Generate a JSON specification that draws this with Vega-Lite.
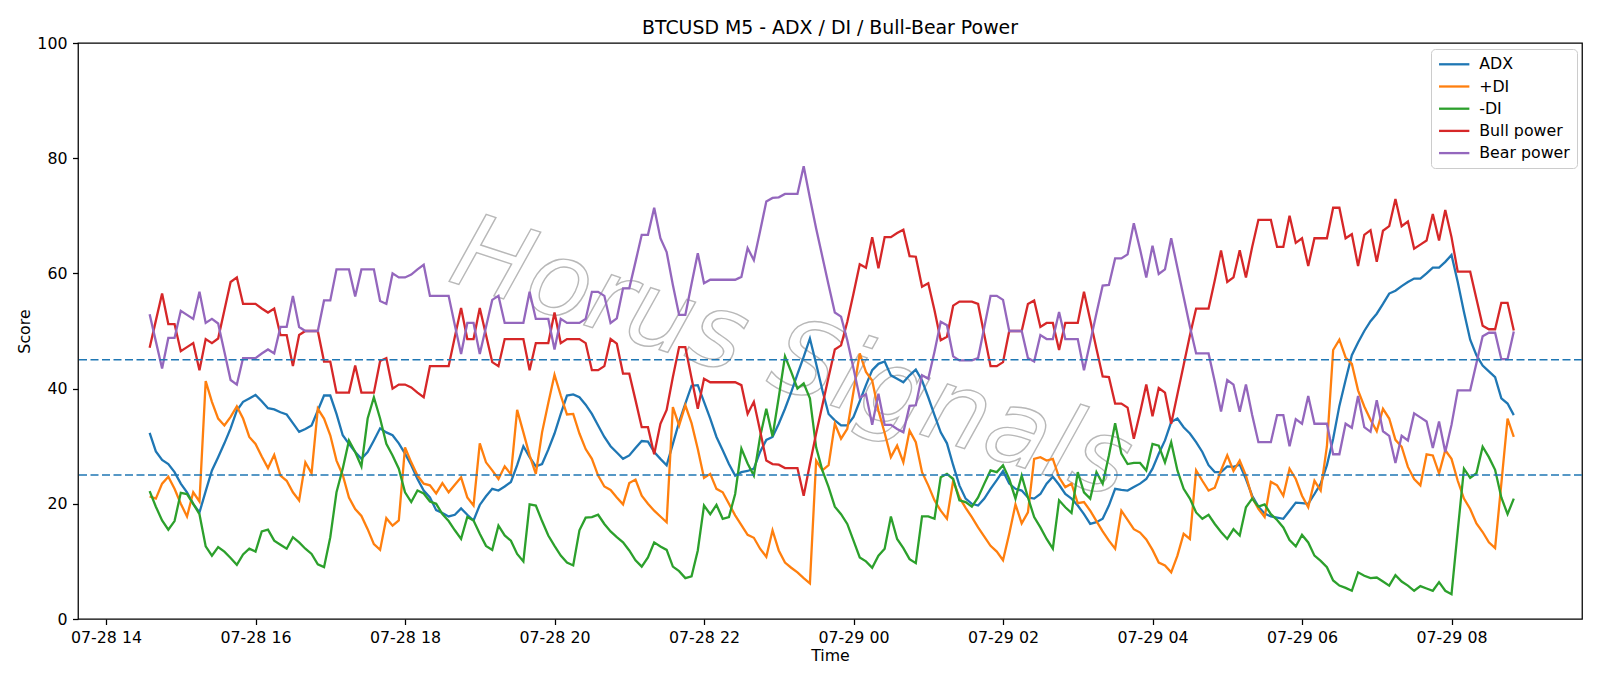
{
  "$schema": "https://vega.github.io/schema/vega-lite/v6.json",
  "width": 1504,
  "height": 576,
  "autosize": {"type": "none"},
  "padding": {"left": 78, "top": 43, "right": 18, "bottom": 67},
  "background": "white",
  "title": {"text": "BTCUSD M5 - ADX / DI / Bull-Bear Power"},
  "data": {
    "values": [
      {"t": "2025-07-28T14:35", "ADX": 32.3, "PDI": 21.3, "MDI": 22.2, "Bull": 47.1, "Bear": 52.9},
      {"t": "2025-07-28T14:40", "ADX": 29.1, "PDI": 20.9, "MDI": 19.5, "Bull": 51.8, "Bear": 48.2},
      {"t": "2025-07-28T14:45", "ADX": 27.6, "PDI": 23.5, "MDI": 17.1, "Bull": 56.5, "Bear": 43.5},
      {"t": "2025-07-28T14:50", "ADX": 26.9, "PDI": 24.7, "MDI": 15.5, "Bull": 51.2, "Bear": 48.8},
      {"t": "2025-07-28T14:55", "ADX": 25.5, "PDI": 22.6, "MDI": 17.0, "Bull": 51.2, "Bear": 48.8},
      {"t": "2025-07-28T15:00", "ADX": 23.5, "PDI": 20.0, "MDI": 21.9, "Bull": 46.5, "Bear": 53.5},
      {"t": "2025-07-28T15:05", "ADX": 22.0, "PDI": 17.8, "MDI": 21.7, "Bull": 47.2, "Bear": 52.8},
      {"t": "2025-07-28T15:10", "ADX": 20.0, "PDI": 22.0, "MDI": 20.0, "Bull": 47.9, "Bear": 52.1},
      {"t": "2025-07-28T15:15", "ADX": 18.5, "PDI": 20.4, "MDI": 18.2, "Bull": 43.2, "Bear": 56.8},
      {"t": "2025-07-28T15:20", "ADX": 22.2, "PDI": 41.3, "MDI": 12.6, "Bull": 48.6, "Bear": 51.4},
      {"t": "2025-07-28T15:25", "ADX": 25.8, "PDI": 37.7, "MDI": 11.0, "Bull": 47.9, "Bear": 52.1},
      {"t": "2025-07-28T15:30", "ADX": 28.1, "PDI": 34.8, "MDI": 12.5, "Bull": 48.7, "Bear": 51.3},
      {"t": "2025-07-28T15:35", "ADX": 30.5, "PDI": 33.6, "MDI": 11.7, "Bull": 53.6, "Bear": 46.4},
      {"t": "2025-07-28T15:40", "ADX": 33.1, "PDI": 35.1, "MDI": 10.6, "Bull": 58.5, "Bear": 41.5},
      {"t": "2025-07-28T15:45", "ADX": 36.2, "PDI": 36.9, "MDI": 9.4, "Bull": 59.3, "Bear": 40.7},
      {"t": "2025-07-28T15:50", "ADX": 37.7, "PDI": 34.8, "MDI": 11.2, "Bull": 54.7, "Bear": 45.3},
      {"t": "2025-07-28T15:55", "ADX": 38.3, "PDI": 31.6, "MDI": 12.2, "Bull": 54.7, "Bear": 45.3},
      {"t": "2025-07-28T16:00", "ADX": 38.9, "PDI": 30.4, "MDI": 11.7, "Bull": 54.7, "Bear": 45.3},
      {"t": "2025-07-28T16:05", "ADX": 37.8, "PDI": 28.2, "MDI": 15.2, "Bull": 53.9, "Bear": 46.1},
      {"t": "2025-07-28T16:10", "ADX": 36.6, "PDI": 26.2, "MDI": 15.5, "Bull": 53.2, "Bear": 46.8},
      {"t": "2025-07-28T16:15", "ADX": 36.4, "PDI": 28.5, "MDI": 13.6, "Bull": 53.9, "Bear": 46.1},
      {"t": "2025-07-28T16:20", "ADX": 35.9, "PDI": 24.9, "MDI": 12.9, "Bull": 49.3, "Bear": 50.7},
      {"t": "2025-07-28T16:25", "ADX": 35.5, "PDI": 24.0, "MDI": 12.2, "Bull": 49.3, "Bear": 50.7},
      {"t": "2025-07-28T16:30", "ADX": 34.0, "PDI": 22.0, "MDI": 14.2, "Bull": 43.9, "Bear": 56.1},
      {"t": "2025-07-28T16:35", "ADX": 32.5, "PDI": 20.6, "MDI": 13.3, "Bull": 49.3, "Bear": 50.7},
      {"t": "2025-07-28T16:40", "ADX": 33.0, "PDI": 27.2, "MDI": 12.2, "Bull": 50.0, "Bear": 50.0},
      {"t": "2025-07-28T16:45", "ADX": 33.6, "PDI": 25.3, "MDI": 11.3, "Bull": 50.0, "Bear": 50.0},
      {"t": "2025-07-28T16:50", "ADX": 36.2, "PDI": 36.5, "MDI": 9.5, "Bull": 50.0, "Bear": 50.0},
      {"t": "2025-07-28T16:55", "ADX": 38.8, "PDI": 34.8, "MDI": 9.0, "Bull": 44.7, "Bear": 55.3},
      {"t": "2025-07-28T17:00", "ADX": 38.8, "PDI": 31.9, "MDI": 14.2, "Bull": 44.7, "Bear": 55.3},
      {"t": "2025-07-28T17:05", "ADX": 35.6, "PDI": 27.5, "MDI": 22.0, "Bull": 39.3, "Bear": 60.7},
      {"t": "2025-07-28T17:10", "ADX": 31.9, "PDI": 25.0, "MDI": 26.1, "Bull": 39.3, "Bear": 60.7},
      {"t": "2025-07-28T17:15", "ADX": 30.4, "PDI": 21.1, "MDI": 31.0, "Bull": 39.3, "Bear": 60.7},
      {"t": "2025-07-28T17:20", "ADX": 29.0, "PDI": 19.1, "MDI": 29.0, "Bull": 44.0, "Bear": 56.0},
      {"t": "2025-07-28T17:25", "ADX": 27.8, "PDI": 17.9, "MDI": 26.5, "Bull": 39.3, "Bear": 60.7},
      {"t": "2025-07-28T17:30", "ADX": 29.0, "PDI": 15.6, "MDI": 34.8, "Bull": 39.3, "Bear": 60.7},
      {"t": "2025-07-28T17:35", "ADX": 31.0, "PDI": 13.0, "MDI": 38.5, "Bull": 39.3, "Bear": 60.7},
      {"t": "2025-07-28T17:40", "ADX": 33.1, "PDI": 12.0, "MDI": 34.8, "Bull": 44.8, "Bear": 55.2},
      {"t": "2025-07-28T17:45", "ADX": 32.4, "PDI": 17.5, "MDI": 30.4, "Bull": 45.3, "Bear": 54.7},
      {"t": "2025-07-28T17:50", "ADX": 31.9, "PDI": 16.2, "MDI": 28.4, "Bull": 40.0, "Bear": 60.0},
      {"t": "2025-07-28T17:55", "ADX": 30.5, "PDI": 17.1, "MDI": 26.1, "Bull": 40.7, "Bear": 59.3},
      {"t": "2025-07-28T18:00", "ADX": 28.7, "PDI": 29.8, "MDI": 22.0, "Bull": 40.7, "Bear": 59.3},
      {"t": "2025-07-28T18:05", "ADX": 26.7, "PDI": 27.2, "MDI": 20.3, "Bull": 40.2, "Bear": 59.8},
      {"t": "2025-07-28T18:10", "ADX": 24.3, "PDI": 24.9, "MDI": 22.3, "Bull": 39.3, "Bear": 60.7},
      {"t": "2025-07-28T18:15", "ADX": 22.3, "PDI": 23.5, "MDI": 21.8, "Bull": 38.5, "Bear": 61.5},
      {"t": "2025-07-28T18:20", "ADX": 21.1, "PDI": 23.2, "MDI": 20.4, "Bull": 43.9, "Bear": 56.1},
      {"t": "2025-07-28T18:25", "ADX": 18.9, "PDI": 21.8, "MDI": 20.0, "Bull": 43.9, "Bear": 56.1},
      {"t": "2025-07-28T18:30", "ADX": 18.4, "PDI": 23.6, "MDI": 18.2, "Bull": 43.9, "Bear": 56.1},
      {"t": "2025-07-28T18:35", "ADX": 17.8, "PDI": 22.0, "MDI": 17.0, "Bull": 43.9, "Bear": 56.1},
      {"t": "2025-07-28T18:40", "ADX": 18.1, "PDI": 23.3, "MDI": 15.4, "Bull": 49.0, "Bear": 51.0},
      {"t": "2025-07-28T18:45", "ADX": 19.2, "PDI": 24.6, "MDI": 13.9, "Bull": 54.0, "Bear": 46.0},
      {"t": "2025-07-28T18:50", "ADX": 18.1, "PDI": 21.1, "MDI": 17.7, "Bull": 48.6, "Bear": 51.4},
      {"t": "2025-07-28T18:55", "ADX": 17.1, "PDI": 19.7, "MDI": 17.1, "Bull": 48.6, "Bear": 51.4},
      {"t": "2025-07-28T19:00", "ADX": 19.8, "PDI": 30.5, "MDI": 14.8, "Bull": 54.0, "Bear": 46.0},
      {"t": "2025-07-28T19:05", "ADX": 21.3, "PDI": 27.2, "MDI": 12.7, "Bull": 49.3, "Bear": 50.7},
      {"t": "2025-07-28T19:10", "ADX": 22.6, "PDI": 25.8, "MDI": 12.0, "Bull": 44.6, "Bear": 55.4},
      {"t": "2025-07-28T19:15", "ADX": 22.3, "PDI": 24.3, "MDI": 16.2, "Bull": 43.9, "Bear": 56.1},
      {"t": "2025-07-28T19:20", "ADX": 23.0, "PDI": 26.5, "MDI": 14.5, "Bull": 48.6, "Bear": 51.4},
      {"t": "2025-07-28T19:25", "ADX": 23.8, "PDI": 25.1, "MDI": 13.6, "Bull": 48.6, "Bear": 51.4},
      {"t": "2025-07-28T19:30", "ADX": 26.7, "PDI": 36.3, "MDI": 11.3, "Bull": 48.6, "Bear": 51.4},
      {"t": "2025-07-28T19:35", "ADX": 30.0, "PDI": 32.4, "MDI": 10.0, "Bull": 48.6, "Bear": 51.4},
      {"t": "2025-07-28T19:40", "ADX": 28.1, "PDI": 28.4, "MDI": 19.9, "Bull": 43.2, "Bear": 56.8},
      {"t": "2025-07-28T19:45", "ADX": 26.5, "PDI": 25.2, "MDI": 19.7, "Bull": 47.9, "Bear": 52.1},
      {"t": "2025-07-28T19:50", "ADX": 26.9, "PDI": 32.4, "MDI": 17.0, "Bull": 47.9, "Bear": 52.1},
      {"t": "2025-07-28T19:55", "ADX": 29.4, "PDI": 37.5, "MDI": 14.5, "Bull": 47.9, "Bear": 52.1},
      {"t": "2025-07-28T20:00", "ADX": 32.2, "PDI": 42.4, "MDI": 12.7, "Bull": 53.2, "Bear": 46.8},
      {"t": "2025-07-28T20:05", "ADX": 35.6, "PDI": 38.8, "MDI": 11.0, "Bull": 47.9, "Bear": 52.1},
      {"t": "2025-07-28T20:10", "ADX": 38.8, "PDI": 35.5, "MDI": 9.8, "Bull": 48.6, "Bear": 51.4},
      {"t": "2025-07-28T20:15", "ADX": 39.0, "PDI": 35.6, "MDI": 9.3, "Bull": 48.6, "Bear": 51.4},
      {"t": "2025-07-28T20:20", "ADX": 38.5, "PDI": 32.2, "MDI": 15.4, "Bull": 48.6, "Bear": 51.4},
      {"t": "2025-07-28T20:25", "ADX": 37.2, "PDI": 29.5, "MDI": 17.6, "Bull": 47.9, "Bear": 52.1},
      {"t": "2025-07-28T20:30", "ADX": 35.6, "PDI": 27.8, "MDI": 17.7, "Bull": 43.2, "Bear": 56.8},
      {"t": "2025-07-28T20:35", "ADX": 33.6, "PDI": 24.9, "MDI": 18.1, "Bull": 43.2, "Bear": 56.8},
      {"t": "2025-07-28T20:40", "ADX": 31.6, "PDI": 23.0, "MDI": 16.5, "Bull": 43.9, "Bear": 56.1},
      {"t": "2025-07-28T20:45", "ADX": 30.0, "PDI": 22.4, "MDI": 15.2, "Bull": 48.6, "Bear": 51.4},
      {"t": "2025-07-28T20:50", "ADX": 28.9, "PDI": 21.1, "MDI": 14.2, "Bull": 47.8, "Bear": 52.2},
      {"t": "2025-07-28T20:55", "ADX": 27.8, "PDI": 19.9, "MDI": 13.3, "Bull": 42.6, "Bear": 57.4},
      {"t": "2025-07-28T21:00", "ADX": 28.4, "PDI": 23.6, "MDI": 11.9, "Bull": 42.6, "Bear": 57.4},
      {"t": "2025-07-28T21:05", "ADX": 29.7, "PDI": 24.2, "MDI": 10.2, "Bull": 38.0, "Bear": 62.0},
      {"t": "2025-07-28T21:10", "ADX": 30.9, "PDI": 21.4, "MDI": 9.1, "Bull": 33.3, "Bear": 66.7},
      {"t": "2025-07-28T21:15", "ADX": 30.8, "PDI": 20.0, "MDI": 10.7, "Bull": 33.3, "Bear": 66.7},
      {"t": "2025-07-28T21:20", "ADX": 29.0, "PDI": 18.8, "MDI": 13.3, "Bull": 28.6, "Bear": 71.4},
      {"t": "2025-07-28T21:25", "ADX": 27.8, "PDI": 17.8, "MDI": 12.6, "Bull": 33.9, "Bear": 66.1},
      {"t": "2025-07-28T21:30", "ADX": 26.7, "PDI": 16.8, "MDI": 12.0, "Bull": 36.3, "Bear": 63.7},
      {"t": "2025-07-28T21:35", "ADX": 30.4, "PDI": 36.8, "MDI": 9.1, "Bull": 42.0, "Bear": 58.0},
      {"t": "2025-07-28T21:40", "ADX": 34.2, "PDI": 33.6, "MDI": 8.3, "Bull": 47.2, "Bear": 52.8},
      {"t": "2025-07-28T21:45", "ADX": 37.4, "PDI": 37.1, "MDI": 7.1, "Bull": 47.2, "Bear": 52.8},
      {"t": "2025-07-28T21:50", "ADX": 40.5, "PDI": 34.0, "MDI": 7.4, "Bull": 41.8, "Bear": 58.2},
      {"t": "2025-07-28T21:55", "ADX": 40.6, "PDI": 29.5, "MDI": 11.9, "Bull": 36.5, "Bear": 63.5},
      {"t": "2025-07-28T22:00", "ADX": 37.7, "PDI": 24.5, "MDI": 19.7, "Bull": 41.7, "Bear": 58.3},
      {"t": "2025-07-28T22:05", "ADX": 34.8, "PDI": 25.2, "MDI": 18.2, "Bull": 41.1, "Bear": 58.9},
      {"t": "2025-07-28T22:10", "ADX": 31.6, "PDI": 22.6, "MDI": 19.8, "Bull": 41.1, "Bear": 58.9},
      {"t": "2025-07-28T22:15", "ADX": 29.3, "PDI": 22.0, "MDI": 17.4, "Bull": 41.1, "Bear": 58.9},
      {"t": "2025-07-28T22:20", "ADX": 26.9, "PDI": 20.0, "MDI": 17.7, "Bull": 41.1, "Bear": 58.9},
      {"t": "2025-07-28T22:25", "ADX": 24.9, "PDI": 18.0, "MDI": 21.7, "Bull": 41.1, "Bear": 58.9},
      {"t": "2025-07-28T22:30", "ADX": 25.5, "PDI": 16.3, "MDI": 29.6, "Bull": 40.6, "Bear": 59.4},
      {"t": "2025-07-28T22:35", "ADX": 25.7, "PDI": 14.6, "MDI": 27.0, "Bull": 35.6, "Bear": 64.4},
      {"t": "2025-07-28T22:40", "ADX": 26.1, "PDI": 14.1, "MDI": 24.9, "Bull": 37.7, "Bear": 62.3},
      {"t": "2025-07-28T22:45", "ADX": 29.0, "PDI": 12.2, "MDI": 31.6, "Bull": 32.7, "Bear": 67.3},
      {"t": "2025-07-28T22:50", "ADX": 31.1, "PDI": 10.8, "MDI": 36.5, "Bull": 27.5, "Bear": 72.5},
      {"t": "2025-07-28T22:55", "ADX": 31.6, "PDI": 15.4, "MDI": 31.7, "Bull": 26.9, "Bear": 73.1},
      {"t": "2025-07-28T23:00", "ADX": 33.9, "PDI": 11.9, "MDI": 38.5, "Bull": 26.8, "Bear": 73.2},
      {"t": "2025-07-28T23:05", "ADX": 36.5, "PDI": 9.8, "MDI": 45.6, "Bull": 26.2, "Bear": 73.8},
      {"t": "2025-07-28T23:10", "ADX": 39.4, "PDI": 8.9, "MDI": 42.9, "Bull": 26.2, "Bear": 73.8},
      {"t": "2025-07-28T23:15", "ADX": 42.5, "PDI": 8.1, "MDI": 40.0, "Bull": 26.2, "Bear": 73.8},
      {"t": "2025-07-28T23:20", "ADX": 45.5, "PDI": 7.1, "MDI": 40.9, "Bull": 21.4, "Bear": 78.6},
      {"t": "2025-07-28T23:25", "ADX": 48.7, "PDI": 6.2, "MDI": 38.3, "Bull": 26.9, "Bear": 73.1},
      {"t": "2025-07-28T23:30", "ADX": 44.3, "PDI": 27.5, "MDI": 29.8, "Bull": 32.2, "Bear": 67.8},
      {"t": "2025-07-28T23:35", "ADX": 39.7, "PDI": 25.8, "MDI": 25.8, "Bull": 37.1, "Bear": 62.9},
      {"t": "2025-07-28T23:40", "ADX": 35.6, "PDI": 26.7, "MDI": 22.9, "Bull": 42.0, "Bear": 58.0},
      {"t": "2025-07-28T23:45", "ADX": 34.5, "PDI": 33.9, "MDI": 19.5, "Bull": 46.8, "Bear": 53.2},
      {"t": "2025-07-28T23:50", "ADX": 33.6, "PDI": 31.3, "MDI": 18.2, "Bull": 47.5, "Bear": 52.5},
      {"t": "2025-07-28T23:55", "ADX": 33.6, "PDI": 33.0, "MDI": 16.5, "Bull": 51.6, "Bear": 48.4},
      {"t": "2025-07-29T00:00", "ADX": 35.1, "PDI": 39.5, "MDI": 13.6, "Bull": 56.5, "Bear": 43.5},
      {"t": "2025-07-29T00:05", "ADX": 37.8, "PDI": 46.1, "MDI": 10.7, "Bull": 61.6, "Bear": 38.4},
      {"t": "2025-07-29T00:10", "ADX": 40.6, "PDI": 42.9, "MDI": 10.0, "Bull": 61.0, "Bear": 39.0},
      {"t": "2025-07-29T00:15", "ADX": 43.2, "PDI": 41.4, "MDI": 8.9, "Bull": 66.3, "Bear": 33.7},
      {"t": "2025-07-29T00:20", "ADX": 44.3, "PDI": 36.2, "MDI": 11.0, "Bull": 60.9, "Bear": 39.1},
      {"t": "2025-07-29T00:25", "ADX": 44.7, "PDI": 32.3, "MDI": 12.2, "Bull": 66.3, "Bear": 33.7},
      {"t": "2025-07-29T00:30", "ADX": 42.3, "PDI": 28.1, "MDI": 17.8, "Bull": 66.3, "Bear": 33.7},
      {"t": "2025-07-29T00:35", "ADX": 41.7, "PDI": 30.1, "MDI": 13.9, "Bull": 67.0, "Bear": 33.0},
      {"t": "2025-07-29T00:40", "ADX": 41.1, "PDI": 27.2, "MDI": 12.3, "Bull": 67.6, "Bear": 32.4},
      {"t": "2025-07-29T00:45", "ADX": 42.3, "PDI": 32.7, "MDI": 10.4, "Bull": 63.0, "Bear": 37.0},
      {"t": "2025-07-29T00:50", "ADX": 43.3, "PDI": 30.7, "MDI": 9.7, "Bull": 62.9, "Bear": 37.1},
      {"t": "2025-07-29T00:55", "ADX": 41.4, "PDI": 25.5, "MDI": 17.8, "Bull": 57.7, "Bear": 42.3},
      {"t": "2025-07-29T01:00", "ADX": 38.5, "PDI": 23.2, "MDI": 17.8, "Bull": 58.3, "Bear": 41.7},
      {"t": "2025-07-29T01:05", "ADX": 35.4, "PDI": 20.6, "MDI": 17.4, "Bull": 53.6, "Bear": 46.4},
      {"t": "2025-07-29T01:10", "ADX": 32.4, "PDI": 18.8, "MDI": 24.6, "Bull": 48.4, "Bear": 51.6},
      {"t": "2025-07-29T01:15", "ADX": 30.5, "PDI": 17.4, "MDI": 25.2, "Bull": 49.0, "Bear": 51.0},
      {"t": "2025-07-29T01:20", "ADX": 26.7, "PDI": 24.0, "MDI": 24.3, "Bull": 54.4, "Bear": 45.6},
      {"t": "2025-07-29T01:25", "ADX": 23.2, "PDI": 21.1, "MDI": 20.6, "Bull": 55.1, "Bear": 44.9},
      {"t": "2025-07-29T01:30", "ADX": 20.9, "PDI": 19.3, "MDI": 20.3, "Bull": 55.1, "Bear": 44.9},
      {"t": "2025-07-29T01:35", "ADX": 20.0, "PDI": 17.7, "MDI": 19.5, "Bull": 55.1, "Bear": 44.9},
      {"t": "2025-07-29T01:40", "ADX": 19.7, "PDI": 15.9, "MDI": 21.1, "Bull": 54.7, "Bear": 45.3},
      {"t": "2025-07-29T01:45", "ADX": 20.9, "PDI": 14.3, "MDI": 23.5, "Bull": 49.3, "Bear": 50.7},
      {"t": "2025-07-29T01:50", "ADX": 22.6, "PDI": 12.7, "MDI": 25.8, "Bull": 43.9, "Bear": 56.1},
      {"t": "2025-07-29T01:55", "ADX": 24.1, "PDI": 11.7, "MDI": 25.5, "Bull": 43.9, "Bear": 56.1},
      {"t": "2025-07-29T02:00", "ADX": 25.7, "PDI": 10.2, "MDI": 26.7, "Bull": 44.6, "Bear": 55.4},
      {"t": "2025-07-29T02:05", "ADX": 23.5, "PDI": 14.8, "MDI": 24.3, "Bull": 50.0, "Bear": 50.0},
      {"t": "2025-07-29T02:10", "ADX": 22.6, "PDI": 19.9, "MDI": 20.9, "Bull": 50.0, "Bear": 50.0},
      {"t": "2025-07-29T02:15", "ADX": 22.3, "PDI": 16.6, "MDI": 24.9, "Bull": 50.0, "Bear": 50.0},
      {"t": "2025-07-29T02:20", "ADX": 21.1, "PDI": 18.5, "MDI": 21.1, "Bull": 54.7, "Bear": 45.3},
      {"t": "2025-07-29T02:25", "ADX": 20.9, "PDI": 27.8, "MDI": 17.7, "Bull": 55.3, "Bear": 44.7},
      {"t": "2025-07-29T02:30", "ADX": 21.7, "PDI": 28.1, "MDI": 15.9, "Bull": 50.7, "Bear": 49.3},
      {"t": "2025-07-29T02:35", "ADX": 23.5, "PDI": 27.5, "MDI": 13.9, "Bull": 51.4, "Bear": 48.6},
      {"t": "2025-07-29T02:40", "ADX": 24.7, "PDI": 27.8, "MDI": 12.2, "Bull": 51.4, "Bear": 48.6},
      {"t": "2025-07-29T02:45", "ADX": 23.3, "PDI": 24.6, "MDI": 20.6, "Bull": 46.7, "Bear": 53.3},
      {"t": "2025-07-29T02:50", "ADX": 21.7, "PDI": 22.9, "MDI": 19.4, "Bull": 51.4, "Bear": 48.6},
      {"t": "2025-07-29T02:55", "ADX": 20.9, "PDI": 23.5, "MDI": 18.4, "Bull": 51.4, "Bear": 48.6},
      {"t": "2025-07-29T03:00", "ADX": 19.7, "PDI": 20.1, "MDI": 25.5, "Bull": 51.4, "Bear": 48.6},
      {"t": "2025-07-29T03:05", "ADX": 18.2, "PDI": 20.3, "MDI": 22.0, "Bull": 56.8, "Bear": 43.2},
      {"t": "2025-07-29T03:10", "ADX": 16.5, "PDI": 18.8, "MDI": 20.9, "Bull": 51.9, "Bear": 48.1},
      {"t": "2025-07-29T03:15", "ADX": 16.8, "PDI": 17.0, "MDI": 25.5, "Bull": 46.9, "Bear": 53.1},
      {"t": "2025-07-29T03:20", "ADX": 17.4, "PDI": 15.2, "MDI": 23.5, "Bull": 42.1, "Bear": 57.9},
      {"t": "2025-07-29T03:25", "ADX": 19.7, "PDI": 13.6, "MDI": 28.4, "Bull": 42.0, "Bear": 58.0},
      {"t": "2025-07-29T03:30", "ADX": 22.6, "PDI": 12.2, "MDI": 34.0, "Bull": 37.4, "Bear": 62.6},
      {"t": "2025-07-29T03:35", "ADX": 22.4, "PDI": 18.8, "MDI": 28.7, "Bull": 37.4, "Bear": 62.6},
      {"t": "2025-07-29T03:40", "ADX": 22.3, "PDI": 17.2, "MDI": 26.9, "Bull": 36.7, "Bear": 63.3},
      {"t": "2025-07-29T03:45", "ADX": 22.9, "PDI": 15.6, "MDI": 27.1, "Bull": 31.3, "Bear": 68.7},
      {"t": "2025-07-29T03:50", "ADX": 23.5, "PDI": 15.0, "MDI": 27.1, "Bull": 35.8, "Bear": 64.2},
      {"t": "2025-07-29T03:55", "ADX": 24.3, "PDI": 13.8, "MDI": 25.8, "Bull": 40.7, "Bear": 59.3},
      {"t": "2025-07-29T04:00", "ADX": 26.1, "PDI": 12.0, "MDI": 30.4, "Bull": 35.2, "Bear": 64.8},
      {"t": "2025-07-29T04:05", "ADX": 28.7, "PDI": 9.8, "MDI": 30.1, "Bull": 40.1, "Bear": 59.9},
      {"t": "2025-07-29T04:10", "ADX": 31.0, "PDI": 9.3, "MDI": 27.2, "Bull": 39.3, "Bear": 60.7},
      {"t": "2025-07-29T04:15", "ADX": 34.2, "PDI": 8.1, "MDI": 30.7, "Bull": 33.9, "Bear": 66.1},
      {"t": "2025-07-29T04:20", "ADX": 34.8, "PDI": 11.0, "MDI": 25.8, "Bull": 39.0, "Bear": 61.0},
      {"t": "2025-07-29T04:25", "ADX": 33.3, "PDI": 14.8, "MDI": 22.6, "Bull": 44.1, "Bear": 55.9},
      {"t": "2025-07-29T04:30", "ADX": 32.2, "PDI": 13.9, "MDI": 20.9, "Bull": 49.2, "Bear": 50.8},
      {"t": "2025-07-29T04:35", "ADX": 30.7, "PDI": 25.8, "MDI": 18.5, "Bull": 53.9, "Bear": 46.1},
      {"t": "2025-07-29T04:40", "ADX": 29.0, "PDI": 24.0, "MDI": 17.4, "Bull": 53.9, "Bear": 46.1},
      {"t": "2025-07-29T04:45", "ADX": 26.7, "PDI": 22.3, "MDI": 18.1, "Bull": 53.9, "Bear": 46.1},
      {"t": "2025-07-29T04:50", "ADX": 25.5, "PDI": 22.8, "MDI": 16.5, "Bull": 58.8, "Bear": 41.2},
      {"t": "2025-07-29T04:55", "ADX": 25.5, "PDI": 25.8, "MDI": 15.1, "Bull": 64.0, "Bear": 36.0},
      {"t": "2025-07-29T05:00", "ADX": 26.5, "PDI": 28.4, "MDI": 13.9, "Bull": 58.5, "Bear": 41.5},
      {"t": "2025-07-29T05:05", "ADX": 26.4, "PDI": 25.7, "MDI": 15.6, "Bull": 59.3, "Bear": 40.7},
      {"t": "2025-07-29T05:10", "ADX": 26.8, "PDI": 27.5, "MDI": 14.5, "Bull": 64.0, "Bear": 36.0},
      {"t": "2025-07-29T05:15", "ADX": 24.3, "PDI": 24.9, "MDI": 19.4, "Bull": 59.3, "Bear": 40.7},
      {"t": "2025-07-29T05:20", "ADX": 21.4, "PDI": 21.1, "MDI": 20.9, "Bull": 64.6, "Bear": 35.4},
      {"t": "2025-07-29T05:25", "ADX": 19.5, "PDI": 19.1, "MDI": 19.5, "Bull": 69.3, "Bear": 30.7},
      {"t": "2025-07-29T05:30", "ADX": 18.3, "PDI": 17.7, "MDI": 19.9, "Bull": 69.3, "Bear": 30.7},
      {"t": "2025-07-29T05:35", "ADX": 17.8, "PDI": 23.8, "MDI": 18.2, "Bull": 69.3, "Bear": 30.7},
      {"t": "2025-07-29T05:40", "ADX": 17.6, "PDI": 23.2, "MDI": 17.2, "Bull": 64.6, "Bear": 35.4},
      {"t": "2025-07-29T05:45", "ADX": 17.4, "PDI": 21.4, "MDI": 15.9, "Bull": 64.6, "Bear": 35.4},
      {"t": "2025-07-29T05:50", "ADX": 18.8, "PDI": 26.1, "MDI": 13.7, "Bull": 70.0, "Bear": 30.0},
      {"t": "2025-07-29T05:55", "ADX": 20.2, "PDI": 24.3, "MDI": 12.6, "Bull": 65.3, "Bear": 34.7},
      {"t": "2025-07-29T06:00", "ADX": 20.1, "PDI": 21.4, "MDI": 14.6, "Bull": 66.1, "Bear": 33.9},
      {"t": "2025-07-29T06:05", "ADX": 20.0, "PDI": 19.4, "MDI": 13.3, "Bull": 61.3, "Bear": 38.7},
      {"t": "2025-07-29T06:10", "ADX": 21.7, "PDI": 24.0, "MDI": 11.0, "Bull": 66.1, "Bear": 33.9},
      {"t": "2025-07-29T06:15", "ADX": 23.5, "PDI": 22.3, "MDI": 10.1, "Bull": 66.1, "Bear": 33.9},
      {"t": "2025-07-29T06:20", "ADX": 26.7, "PDI": 30.0, "MDI": 9.0, "Bull": 66.1, "Bear": 33.9},
      {"t": "2025-07-29T06:25", "ADX": 31.3, "PDI": 46.7, "MDI": 6.7, "Bull": 71.4, "Bear": 28.6},
      {"t": "2025-07-29T06:30", "ADX": 37.0, "PDI": 48.5, "MDI": 5.8, "Bull": 71.4, "Bear": 28.6},
      {"t": "2025-07-29T06:35", "ADX": 41.5, "PDI": 45.4, "MDI": 5.4, "Bull": 66.1, "Bear": 33.9},
      {"t": "2025-07-29T06:40", "ADX": 45.8, "PDI": 44.3, "MDI": 4.9, "Bull": 66.8, "Bear": 33.2},
      {"t": "2025-07-29T06:45", "ADX": 48.0, "PDI": 39.7, "MDI": 8.1, "Bull": 61.3, "Bear": 38.7},
      {"t": "2025-07-29T06:50", "ADX": 50.0, "PDI": 36.9, "MDI": 7.5, "Bull": 66.7, "Bear": 33.3},
      {"t": "2025-07-29T06:55", "ADX": 51.7, "PDI": 34.6, "MDI": 7.1, "Bull": 67.5, "Bear": 32.5},
      {"t": "2025-07-29T07:00", "ADX": 53.0, "PDI": 32.6, "MDI": 7.2, "Bull": 62.0, "Bear": 38.0},
      {"t": "2025-07-29T07:05", "ADX": 54.7, "PDI": 36.5, "MDI": 6.5, "Bull": 67.4, "Bear": 32.6},
      {"t": "2025-07-29T07:10", "ADX": 56.5, "PDI": 34.8, "MDI": 5.8, "Bull": 68.2, "Bear": 31.8},
      {"t": "2025-07-29T07:15", "ADX": 57.0, "PDI": 31.1, "MDI": 7.6, "Bull": 72.9, "Bear": 27.1},
      {"t": "2025-07-29T07:20", "ADX": 57.8, "PDI": 29.9, "MDI": 6.5, "Bull": 68.2, "Bear": 31.8},
      {"t": "2025-07-29T07:25", "ADX": 58.5, "PDI": 26.4, "MDI": 5.8, "Bull": 69.0, "Bear": 31.0},
      {"t": "2025-07-29T07:30", "ADX": 59.1, "PDI": 24.3, "MDI": 4.9, "Bull": 64.3, "Bear": 35.7},
      {"t": "2025-07-29T07:35", "ADX": 59.1, "PDI": 23.2, "MDI": 5.7, "Bull": 65.0, "Bear": 35.0},
      {"t": "2025-07-29T07:40", "ADX": 60.0, "PDI": 28.6, "MDI": 5.3, "Bull": 65.7, "Bear": 34.3},
      {"t": "2025-07-29T07:45", "ADX": 61.0, "PDI": 28.4, "MDI": 4.9, "Bull": 70.3, "Bear": 29.7},
      {"t": "2025-07-29T07:50", "ADX": 61.0, "PDI": 25.3, "MDI": 6.4, "Bull": 65.7, "Bear": 34.3},
      {"t": "2025-07-29T07:55", "ADX": 62.0, "PDI": 29.3, "MDI": 4.9, "Bull": 71.0, "Bear": 29.0},
      {"t": "2025-07-29T08:00", "ADX": 63.2, "PDI": 27.8, "MDI": 4.3, "Bull": 66.3, "Bear": 33.7},
      {"t": "2025-07-29T08:05", "ADX": 58.5, "PDI": 24.0, "MDI": 15.3, "Bull": 60.3, "Bear": 39.7},
      {"t": "2025-07-29T08:10", "ADX": 53.3, "PDI": 20.9, "MDI": 26.1, "Bull": 60.3, "Bear": 39.7},
      {"t": "2025-07-29T08:15", "ADX": 48.5, "PDI": 19.1, "MDI": 24.5, "Bull": 60.3, "Bear": 39.7},
      {"t": "2025-07-29T08:20", "ADX": 45.8, "PDI": 16.6, "MDI": 25.3, "Bull": 55.6, "Bear": 44.4},
      {"t": "2025-07-29T08:25", "ADX": 44.0, "PDI": 15.1, "MDI": 29.9, "Bull": 50.9, "Bear": 49.1},
      {"t": "2025-07-29T08:30", "ADX": 43.0, "PDI": 13.3, "MDI": 28.1, "Bull": 50.3, "Bear": 49.7},
      {"t": "2025-07-29T08:35", "ADX": 42.0, "PDI": 12.3, "MDI": 25.9, "Bull": 50.3, "Bear": 49.7},
      {"t": "2025-07-29T08:40", "ADX": 38.3, "PDI": 23.5, "MDI": 21.1, "Bull": 54.9, "Bear": 45.1},
      {"t": "2025-07-29T08:45", "ADX": 37.4, "PDI": 34.8, "MDI": 18.2, "Bull": 54.9, "Bear": 45.1},
      {"t": "2025-07-29T08:50", "ADX": 35.4, "PDI": 31.6, "MDI": 20.9, "Bull": 50.1, "Bear": 49.9}
    ]
  },
  "layer": [
    {
      "data": {"values": [{"brand": "Horus Signals"}]},
      "mark": {
        "type": "text",
        "fontStyle": "italic",
        "fontSize": 103,
        "angle": 18,
        "align": "center",
        "baseline": "middle",
        "fillOpacity": 0,
        "stroke": "#b8b8b8",
        "strokeWidth": 1.4
      },
      "encoding": {
        "x": {"datum": {"year": 2025, "month": 7, "date": 28, "hours": 23, "minutes": 10}, "type": "temporal", "title": "Time"},
        "y": {"datum": 45, "type": "quantitative", "title": "Score"},
        "text": {"field": "brand", "type": "nominal"}
      }
    },
    {
      "transform": [
        {"fold": ["ADX", "PDI", "MDI", "Bull", "Bear"], "as": ["series", "value"]}
      ],
      "mark": {"type": "line", "strokeWidth": 2.3},
      "encoding": {
        "x": {
          "field": "t",
          "type": "temporal",
          "title": "Time",
          "scale": {
            "domain": [
              {"year": 2025, "month": 7, "date": 28, "hours": 13, "minutes": 37, "seconds": 30},
              {"year": 2025, "month": 7, "date": 29, "hours": 9, "minutes": 44, "seconds": 45}
            ]
          },
          "axis": {
            "values": [
              {"year": 2025, "month": 7, "date": 28, "hours": 14},
              {"year": 2025, "month": 7, "date": 28, "hours": 16},
              {"year": 2025, "month": 7, "date": 28, "hours": 18},
              {"year": 2025, "month": 7, "date": 28, "hours": 20},
              {"year": 2025, "month": 7, "date": 28, "hours": 22},
              {"year": 2025, "month": 7, "date": 29, "hours": 0},
              {"year": 2025, "month": 7, "date": 29, "hours": 2},
              {"year": 2025, "month": 7, "date": 29, "hours": 4},
              {"year": 2025, "month": 7, "date": 29, "hours": 6},
              {"year": 2025, "month": 7, "date": 29, "hours": 8}
            ],
            "format": "%m-%d %H",
            "labelAngle": 0
          }
        },
        "y": {
          "field": "value",
          "type": "quantitative",
          "title": "Score",
          "scale": {"domain": [0, 100]},
          "axis": {"values": [0, 20, 40, 60, 80, 100]}
        },
        "color": {
          "field": "series",
          "type": "nominal",
          "scale": {
            "domain": ["ADX", "PDI", "MDI", "Bull", "Bear"],
            "range": ["#1f77b4", "#ff7f0e", "#2ca02c", "#d62728", "#9467bd"]
          },
          "legend": {
            "title": null,
            "orient": "top-right",
            "offset": 5.5,
            "symbolType": "M-2,0H2",
            "symbolSize": 230,
            "symbolOffset": 7.9,
            "symbolStrokeWidth": 2.3,
            "labelOffset": 16,
            "rowPadding": 5.2,
            "padding": 6.3,
            "fillColor": "white",
            "strokeColor": "#cccccc",
            "cornerRadius": 4,
            "labelExpr": "datum.label == 'PDI' ? '+DI' : datum.label == 'MDI' ? '-DI' : datum.label == 'Bull' ? 'Bull power' : datum.label == 'Bear' ? 'Bear power' : datum.label"
          }
        }
      }
    },
    {
      "data": {"values": [{"level": 45}, {"level": 25}]},
      "mark": {"type": "rule", "color": "#1f77b4", "strokeWidth": 1.6, "strokeDash": [8, 3.5]},
      "encoding": {
        "y": {"field": "level", "type": "quantitative", "title": "Score"}
      }
    }
  ],
  "config": {
    "font": "DejaVu Sans",
    "view": {"stroke": "black", "strokeWidth": 1.26},
    "title": {"fontSize": 18.9, "fontWeight": "normal", "color": "black", "offset": 5, "dy": 8},
    "axis": {
      "labelFontSize": 15.8,
      "labelColor": "black",
      "titleFontSize": 15.8,
      "titleFontWeight": "normal",
      "titleColor": "black",
      "tickColor": "black",
      "tickSize": 5.5,
      "tickWidth": 1.26,
      "labelPadding": 5.5,
      "domain": false,
      "gridColor": "#e3e3e3",
      "gridWidth": 1.26
    },
    "legend": {"labelFontSize": 15.8, "labelColor": "black"}
  }
}
